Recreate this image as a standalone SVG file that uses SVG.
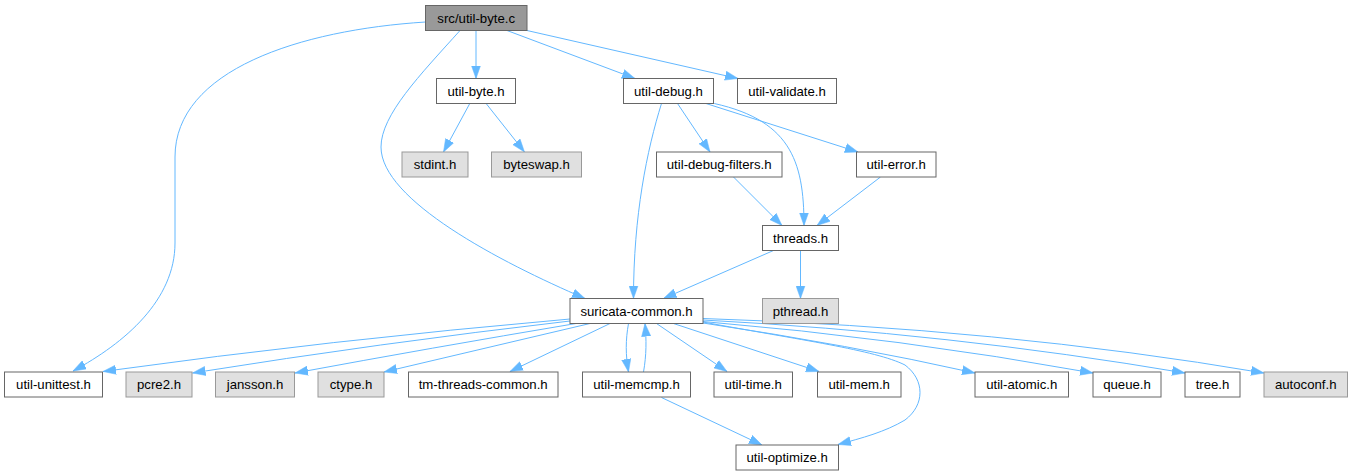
<svg xmlns="http://www.w3.org/2000/svg" width="1353" height="476" viewBox="0 0 1353 476">
<style>
.n rect{fill:#fff;stroke:#666;stroke-width:1}
.g rect{fill:#e0e0e0;stroke:#999;stroke-width:1}
.r rect{fill:#999;stroke:#666;stroke-width:1}
text{font-family:"Liberation Sans",Arial,Helvetica,sans-serif;font-size:13.2px;fill:#000;text-anchor:middle}
#edges path{fill:none;stroke:#63b8ff;stroke-width:1;marker-end:url(#ah)}
</style>
<defs>
<marker id="ah" markerWidth="14" markerHeight="10" refX="13" refY="5" orient="auto" markerUnits="userSpaceOnUse">
<path d="M0,0.4 L13,5 L0,9.6 Z" fill="#63b8ff" stroke="#63b8ff" stroke-width="0.5"/>
</marker>
</defs>
<rect width="1353" height="476" fill="#fff"/>
<g id="edges">
<path d="M425.5,22 C300,30 175,70 175,157 L175,243 C175,300 125,343 73,371"/>
<path d="M460,30.5 C420,75 381,115 381,147 C381,200 500,262 585,298.5"/>
<path d="M476,30.5 L476,78.5"/>
<path d="M507,30.5 L635,78.5"/>
<path d="M527,30.5 L738,78.5"/>
<path d="M469.5,104 L443.5,152"/>
<path d="M486.5,104 L524.5,152"/>
<path d="M661.5,103.5 C647,150 633.5,215 633.5,298.5"/>
<path d="M677.5,103.5 L710,152"/>
<path d="M707,102 C790,118 804,160 804,225.5"/>
<path d="M706,103.5 L858,152"/>
<path d="M733.5,177 L782,225.5"/>
<path d="M880.5,177 L817,225.5"/>
<path d="M773.5,250.5 L663.5,298.5"/>
<path d="M800.5,250.5 L800.5,298.5"/>
<path d="M570,319 Q330,340 103,371.5"/>
<path d="M570,321 Q380,343 192.5,373"/>
<path d="M576,323.5 Q430,348 295,373"/>
<path d="M590,323.5 L384,372"/>
<path d="M610,323.5 L510,371.5"/>
<path d="M628.5,323.5 C625.5,340 625.5,355 628.5,372"/>
<path d="M643.5,372 C646.5,355 646.5,340 645,323.5"/>
<path d="M656.5,323.5 L727,371.5"/>
<path d="M673.5,323.5 L819,371.5"/>
<path d="M703,322 C800,340 875,350 905,365 C925,380 925,405 905,420 C885,432 862,438 838,444.5"/>
<path d="M703,323 Q850,345 975,373"/>
<path d="M703,321.5 Q900,338 1093,373"/>
<path d="M703,320 Q950,333 1185,373"/>
<path d="M703,318.5 Q1000,328 1264,373"/>
<path d="M661.5,397.5 L762,445"/>
</g>
<g id="node-src-util-byte-c" class="r"><rect x="425.5" y="5.5" width="101.5" height="25"/><text x="476.2" y="22.5">src/util-byte.c</text></g>
<g id="node-util-byte-h" class="n"><rect x="436.5" y="78.5" width="79" height="25"/><text x="476" y="95.5">util-byte.h</text></g>
<g id="node-util-debug-h" class="n"><rect x="623.5" y="78.5" width="90" height="25"/><text x="668.5" y="95.5">util-debug.h</text></g>
<g id="node-util-validate-h" class="n"><rect x="737.5" y="78.5" width="99" height="25"/><text x="787" y="95.5">util-validate.h</text></g>
<g id="node-stdint-h" class="g"><rect x="402" y="152" width="66" height="25"/><text x="435" y="169">stdint.h</text></g>
<g id="node-byteswap-h" class="g"><rect x="491.5" y="152" width="90" height="25"/><text x="536.5" y="169">byteswap.h</text></g>
<g id="node-util-debug-filters-h" class="n"><rect x="656.5" y="152" width="125.5" height="25"/><text x="719.2" y="169">util-debug-filters.h</text></g>
<g id="node-util-error-h" class="n"><rect x="856.5" y="152" width="79.5" height="25"/><text x="896.2" y="169">util-error.h</text></g>
<g id="node-threads-h" class="n"><rect x="762.5" y="225.5" width="76" height="25"/><text x="800.5" y="242.5">threads.h</text></g>
<g id="node-suricata-common-h" class="n"><rect x="570" y="298.5" width="133" height="25"/><text x="636.5" y="315.5">suricata-common.h</text></g>
<g id="node-pthread-h" class="g"><rect x="762.5" y="298.5" width="76" height="25"/><text x="800.5" y="315.5">pthread.h</text></g>
<g id="node-util-unittest-h" class="n"><rect x="4.5" y="372" width="98" height="25"/><text x="53.5" y="389">util-unittest.h</text></g>
<g id="node-pcre2-h" class="g"><rect x="126" y="372" width="66" height="25"/><text x="159" y="389">pcre2.h</text></g>
<g id="node-jansson-h" class="g"><rect x="215.5" y="372" width="79" height="25"/><text x="255" y="389">jansson.h</text></g>
<g id="node-ctype-h" class="g"><rect x="318" y="372" width="66" height="25"/><text x="351" y="389">ctype.h</text></g>
<g id="node-tm-threads-common-h" class="n"><rect x="408.5" y="372" width="149.5" height="25"/><text x="483.2" y="389">tm-threads-common.h</text></g>
<g id="node-util-memcmp-h" class="n"><rect x="582.5" y="372" width="108" height="25"/><text x="636.5" y="389">util-memcmp.h</text></g>
<g id="node-util-time-h" class="n"><rect x="714" y="372" width="78.5" height="25"/><text x="753.2" y="389">util-time.h</text></g>
<g id="node-util-mem-h" class="n"><rect x="817.5" y="372" width="83.5" height="25"/><text x="859.2" y="389">util-mem.h</text></g>
<g id="node-util-atomic-h" class="n"><rect x="975" y="372" width="93.5" height="25"/><text x="1021.7" y="389">util-atomic.h</text></g>
<g id="node-queue-h" class="n"><rect x="1093" y="372" width="68" height="25"/><text x="1127" y="389">queue.h</text></g>
<g id="node-tree-h" class="n"><rect x="1185" y="372" width="55" height="25"/><text x="1212.5" y="389">tree.h</text></g>
<g id="node-autoconf-h" class="g"><rect x="1264" y="372" width="83.5" height="25"/><text x="1305.7" y="389">autoconf.h</text></g>
<g id="node-util-optimize-h" class="n"><rect x="736" y="445" width="102.5" height="25"/><text x="787.2" y="462">util-optimize.h</text></g>
</svg>
